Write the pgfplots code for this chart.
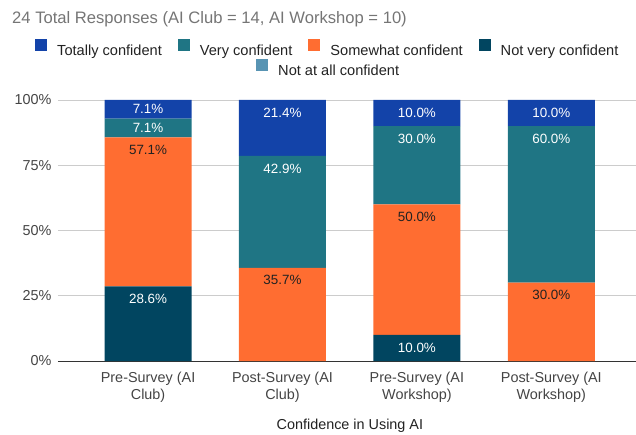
\documentclass[border=0pt]{standalone}
\usepackage{pgfplots}
\pgfplotsset{compat=1.18}
\usepackage{fontspec}
\setmainfont{Liberation Sans}
\definecolor{ctot}{HTML}{1343A9}
\definecolor{cvery}{HTML}{1F7584}
\definecolor{csome}{HTML}{FF6D31}
\definecolor{cnv}{HTML}{014560}
\definecolor{cnaa}{HTML}{5894B3}
\definecolor{ctitle}{HTML}{757575}
\definecolor{ctick}{HTML}{444444}
\definecolor{ctext}{HTML}{222222}
\definecolor{cgrid}{HTML}{CCCCCC}
\definecolor{caxis}{HTML}{333333}
\begin{document}
\begin{tikzpicture}
\path[use as bounding box] (-58pt,-73pt) rectangle (578pt,361pt);
\begin{axis}[
  at={(0pt,0pt)}, anchor=south west, scale only axis,
  width=578pt, height=261pt,
  ybar stacked, bar width=87pt,
  xmin=-0.67, xmax=3.63, ymin=0, ymax=100,
  xtick={0,1,2,3},
  xticklabels={{Pre-Survey (AI\\Club)},{Post-Survey (AI\\Club)},{Pre-Survey (AI\\Workshop)},{Post-Survey (AI\\Workshop)}},
  xticklabel style={align=center, font=\fontsize{14.4}{17}\selectfont, text=ctick, yshift=-8pt},
  ytick={0,25,50,75,100},
  yticklabels={0\%,25\%,50\%,75\%,100\%},
  yticklabel style={font=\fontsize{14.4}{17}\selectfont, text=ctick, xshift=-3pt},
  major tick length=0pt,
  axis x line*=bottom, axis y line*=left,
  y axis line style={draw=none},
  x axis line style={draw=caxis, line width=1pt, -},
  ymajorgrids, grid style={draw=cgrid, line width=0.8pt},
  xlabel={Confidence in Using AI},
  xlabel style={at={(axis description cs:0.505,0)}, anchor=center, yshift=-65pt, font=\fontsize{14.4}{17}\selectfont, text=ctext},
  point meta=explicit,
  /pgf/number format/assume math mode=true,
  visualization depends on={rawy \as \rawy},
  nodes near coords={\pgfmathfloatifflags{\pgfplotspointmeta}{0}{}{\pgfmathprintnumber[fixed,fixed zerofill,precision=1]{\pgfplotspointmeta}\%}},
  every node near coord/.append style={anchor=center, yshift={max(\rawy*1.305-12.5,0)*1pt}, font=\fontsize{13.4}{15}\selectfont},
  legend image code/.code={\fill[#1] (0pt,-1pt) rectangle (12pt,11pt);},
  reverse legend,
  legend style={draw=none, fill=none, inner sep=0pt, legend columns=4,
    at={(-0.0398,1.1954)}, anchor=west,
    font=\fontsize{14.6}{17}\selectfont, text=ctext,
    /tikz/every odd column/.append style={column sep=8pt},
    /tikz/every even column/.append style={column sep=14pt}},
]
\addplot[fill=cnv, draw=none, every node near coord/.append style={text=white}]
  coordinates {(0,28.571)[28.6] (1,0)[0] (2,10)[10.0] (3,0)[0]};
\addlegendentry{Not very confident}
\addplot[fill=csome, draw=none, every node near coord/.append style={text=ctext}]
  coordinates {(0,57.143)[57.1] (1,35.714)[35.7] (2,50)[50.0] (3,30)[30.0]};
\addlegendentry{Somewhat confident}
\addplot[fill=cvery, draw=none, every node near coord/.append style={text=white}]
  coordinates {(0,7.143)[7.1] (1,42.857)[42.9] (2,30)[30.0] (3,60)[60.0]};
\addlegendentry{Very confident}
\addplot[fill=ctot, draw=none, every node near coord/.append style={text=white}]
  coordinates {(0,7.143)[7.1] (1,21.429)[21.4] (2,10)[10.0] (3,10)[10.0]};
\addlegendentry{Totally confident}
\end{axis}
\begin{axis}[
  at={(0pt,0pt)}, anchor=south west, scale only axis,
  width=578pt, height=261pt, hide axis,
  xmin=0, xmax=1, ymin=0, ymax=1,
  legend image code/.code={\fill[#1] (0pt,-1pt) rectangle (12pt,11pt);},
  legend style={draw=none, fill=none, inner sep=0pt,
    at={(0.3426,1.1188)}, anchor=west,
    font=\fontsize{14.6}{17}\selectfont, text=ctext,
    /tikz/every odd column/.append style={column sep=8pt}},
]
\addlegendimage{draw=none, fill=cnaa}
\addlegendentry{Not at all confident}
\end{axis}
\node[anchor=west, inner sep=0pt, font=\fontsize{16.6}{19}\selectfont, text=ctitle] at (-46pt,342pt) {24 Total Responses (AI Club = 14, AI Workshop = 10)};
\end{tikzpicture}
\end{document}
